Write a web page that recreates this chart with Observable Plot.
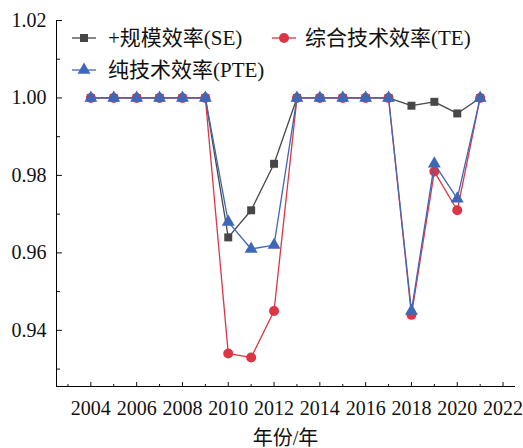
<!DOCTYPE html>
<html>
<head>
<meta charset="utf-8">
<script src="https://cdn.jsdelivr.net/npm/d3@7"></script>
<script src="https://cdn.jsdelivr.net/npm/@observablehq/plot@0.6"></script>
<style>
  body { margin: 0; background: #fff; }
  #wrap { position: relative; width: 523px; height: 448px; }
  #legend { position: absolute; left: 0; top: 0; }
</style>
</head>
<body>
<div id="wrap"></div>
<script>
const years = [2004, 2005, 2006, 2007, 2008, 2009, 2010, 2011, 2012, 2013, 2014, 2015, 2016, 2017, 2018, 2019, 2020, 2021];
const seValues  = [1, 1, 1, 1, 1, 1, 0.964, 0.971, 0.983, 1, 1, 1, 1, 1, 0.998, 0.999, 0.996, 1];
const teValues  = [1, 1, 1, 1, 1, 1, 0.934, 0.933, 0.945, 1, 1, 1, 1, 1, 0.944, 0.981, 0.971, 1];
const pteValues = [1, 1, 1, 1, 1, 1, 0.968, 0.961, 0.962, 1, 1, 1, 1, 1, 0.945, 0.983, 0.974, 1];
const seriesNames = ["+规模效率(SE)", "综合技术效率(TE)", "纯技术效率(PTE)"];
const seriesColors = ["#474747", "#dc3545", "#3f67b8"];
const seriesSymbols = ["square", "circle", "triangle"];
const xMajorTicks = [2004, 2006, 2008, 2010, 2012, 2014, 2016, 2018, 2020, 2022];
const xMinorTicks = [2003, 2005, 2007, 2009, 2011, 2013, 2015, 2017, 2019, 2021];
const yMajorTicks = [0.94, 0.96, 0.98, 1.00, 1.02];
const yMinorTicks = [0.93, 0.95, 0.97, 0.99, 1.01];
const xAxisLabel = "年份/年";

const allSeries = [seValues, teValues, pteValues].map((vals, k) =>
  years.map((y, i) => ({year: y, value: vals[i], k}))
);

const font = "'Liberation Serif', 'Times New Roman', 'Noto Sans CJK SC', serif";
const W = 523, H = 448;
const mL = 56, mR = 9, mT = 20, mB = 62;
const plotH = H - mT - mB;
const plotW = W - mL - mR;

const marks = [
  Plot.frame({anchor: "left", stroke: "#000", strokeWidth: 1}),
  Plot.frame({anchor: "bottom", stroke: "#000", strokeWidth: 1}),
  // y labels
  Plot.axisY({ticks: yMajorTicks, tickFormat: d3.format(".2f"), tickSize: 0, tickPadding: 10, label: null, fill: "#111"}),
  // inward y ticks (drawn from right anchor, shifted to left edge)
  Plot.axisY({anchor: "right", ticks: yMajorTicks, text: null, tickSize: 5, dx: -plotW, label: null}),
  Plot.axisY({anchor: "right", ticks: yMinorTicks, text: null, tickSize: 3, dx: -plotW, label: null}),
  // x labels
  Plot.axisX({ticks: xMajorTicks, tickFormat: d => String(d), tickSize: 0, tickPadding: 14, label: xAxisLabel, labelAnchor: "center", labelArrow: "none", labelOffset: 58, fill: "#111"}),
  Plot.axisX({anchor: "top", ticks: xMajorTicks, text: null, tickSize: 5, dy: plotH, label: null}),
  Plot.axisX({anchor: "top", ticks: xMinorTicks, text: null, tickSize: 3, dy: plotH, label: null}),
];

allSeries.forEach((data, k) => {
  marks.push(Plot.line(data, {x: "year", y: "value", stroke: seriesColors[k], strokeWidth: 1.3}));
  marks.push(Plot.dot(data, {x: "year", y: "value", fill: seriesColors[k], stroke: "none",
    symbol: () => seriesSymbols[k], r: k === 0 ? 4.5 : (k === 1 ? 5 : 4.8)}));
});

const chart = Plot.plot({
  width: W, height: H,
  marginLeft: mL, marginRight: mR, marginTop: mT, marginBottom: mB,
  style: {fontFamily: font, fontSize: "20px", color: "#111", background: "#fff"},
  x: {domain: [2002.5, 2022.5]},
  y: {domain: [0.9255, 1.02]},
  marks
});
const wrap = document.getElementById("wrap");
wrap.appendChild(chart);

// legend overlay
const lg = d3.select(wrap).append("svg").attr("id", "legend").attr("width", W).attr("height", 90);
const items = [
  {k: 0, x: 72, y: 38},
  {k: 1, x: 272, y: 38},
  {k: 2, x: 72, y: 70}
];
items.forEach(({k, x, y}) => {
  const g = lg.append("g");
  g.append("line").attr("x1", x).attr("x2", x + 24).attr("y1", y).attr("y2", y)
    .attr("stroke", seriesColors[k]).attr("stroke-width", 1.3);
  const sym = [d3.symbolSquare, d3.symbolCircle, d3.symbolTriangle][k];
  const r = k === 0 ? 4.5 : (k === 1 ? 5 : 4.8);
  g.append("path").attr("d", d3.symbol(sym, Math.PI * r * r)())
    .attr("transform", `translate(${x + 12},${y})`).attr("fill", seriesColors[k]);
  g.append("text").attr("x", x + (k === 1 ? 33 : 36)).attr("y", y).attr("dy", "0.35em")
    .attr("font-family", font).attr("font-size", 21).attr("fill", "#111").text(seriesNames[k]);
});
</script>
</body>
</html>
